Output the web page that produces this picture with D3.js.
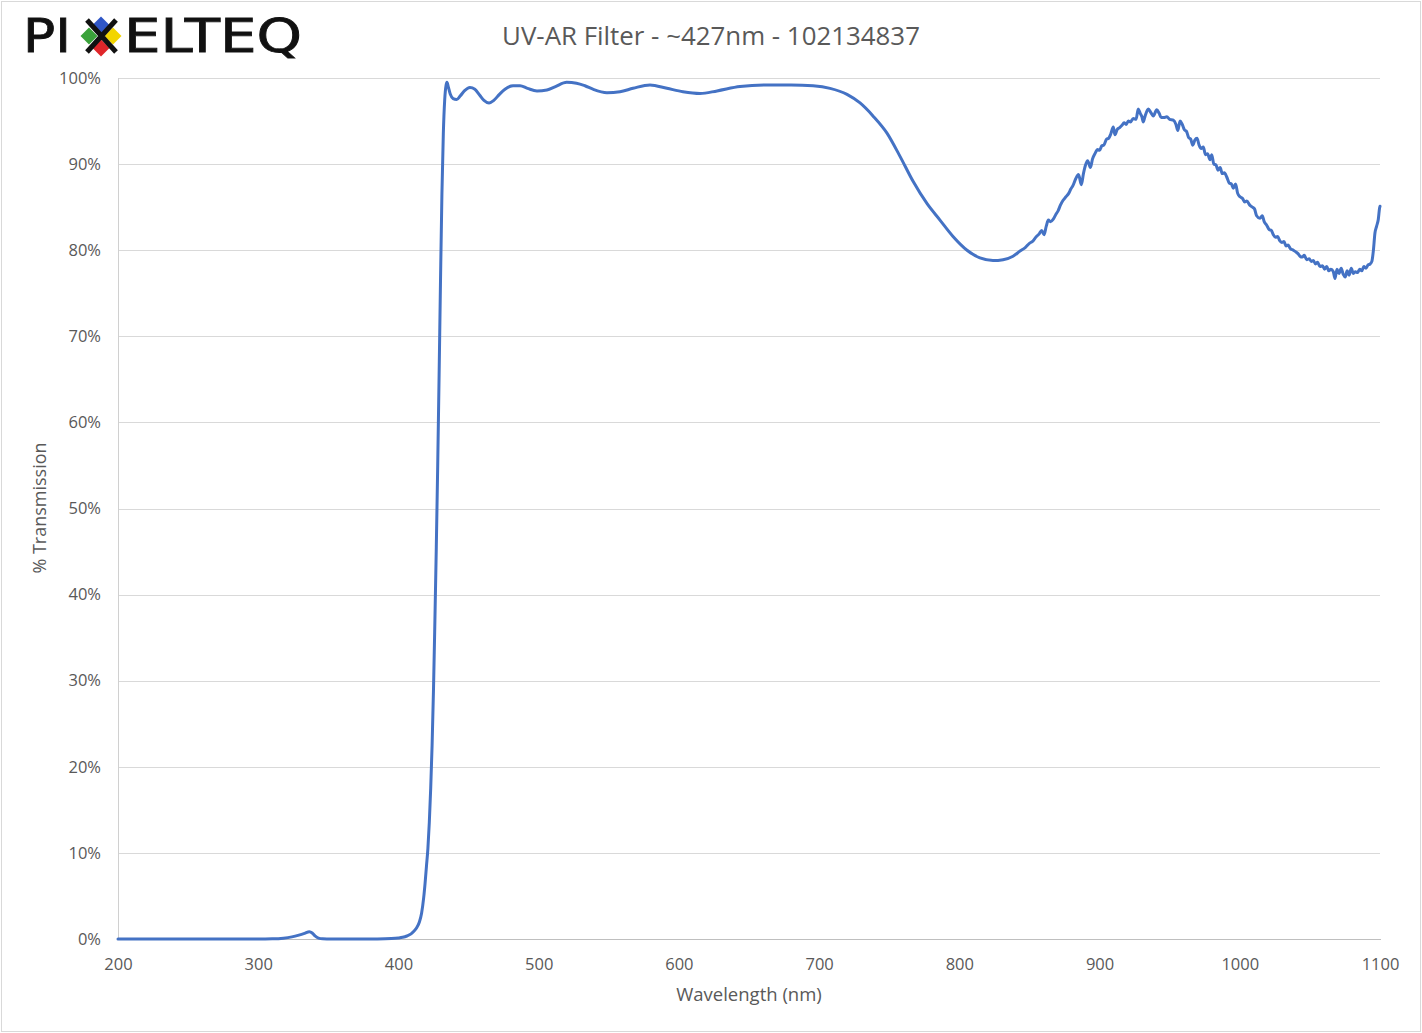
<!DOCTYPE html>
<html><head><meta charset="utf-8">
<script src="https://cdn.jsdelivr.net/npm/d3@7"></script>
<style>body{margin:0;background:#fff}svg{display:block}</style>
</head><body>
<script>
const title = "UV-AR Filter - ~427nm - 102134837";
const xLabel = "Wavelength (nm)";
const yLabel = "% Transmission";
const xTicks = [200,300,400,500,600,700,800,900,1000,1100];
const yTicks = [0,10,20,30,40,50,60,70,80,90,100];

const wavelength = [200,250,300,310,318,324,329,333,336.5,338.5,340.5,343,346,352,370,385,395,400,403,406,409,411,413,415,416.5,418,419,420,421,422,423,424,425,426,427,428,429,430,431,432,433,434,434.6,435.5,437,439,441.5,444,447,451,454.5,458,461,464.6,468,472,476,481.7,486.7,492,498.8,505.9,512,520,527,533,538.7,548.7,558,567.3,579.4,591.5,602.9,615.1,627.2,643.6,665,680,695.7,707.8,719.9,729.2,738.4,748.4,757.7,767,777,786.2,795.5,805.5,814.7,824,831.2,838.3,843.3,
847,850,852,855,857,858.7,860.4,862,863.5,865,867,869,870.5,872,874,876,878,879.5,881,883,885,887,888.5,890,891.5,893.5,895,897,898.5,900,901.5,903,905,906.5,908,909.8,911,912.5,914,916,917.5,919,920.5,922,924,926,927.6,929,930.2,931.2,932.5,934.8,936.5,938.3,940.8,942.5,944,946,948,950,952.6,954.5,955.8,957.4,959,960.5,962,963.5,965,966.5,968,969.5,971,972.5,974,975.5,977,978.8,980,981.5,983,984.5,986,987.5,989,990.7,992.5,994,995.4,997,998.5,1000.2,1002,1003.5,1005,1007.3,1009,1010.5,1012,1014.4,1016,1017.5,1019.2,1021,1022.5,1023.9,1025.5,1027,1028.5,1030,1031.5,1033,1034.5,1036,1038.2,1040,1041.5,1043,1044.5,1046,1047.7,1049.5,1051,1052.5,1054,1055.5,1057.2,1059,1060.5,1062,1063.5,1065,1066.7,1067.9,1069.3,1070.8,1072.3,1073.8,1075.2,1076.6,1078,1079.5,1081,1082.5,1084,1085.5,1087,1088.5,1090,1091.5,1093,1094.2,1095.3,1096.4,1097.6,1098.8,1099.7,1100];

const transmission = [0,0,0,0.02,0.1,0.25,0.45,0.65,0.85,0.7,0.35,0.1,0.02,0,0,0.01,0.05,0.12,0.2,0.35,0.6,0.9,1.3,2.0,3.0,4.8,6.5,8.5,10.5,13.5,17.5,22.5,29,37,45.5,55,65.5,76.5,86.5,93.5,97.5,99.2,99.5,99.0,98.1,97.6,97.5,97.9,98.5,98.9,98.7,98.0,97.4,97.1,97.4,98.1,98.7,99.1,99.1,98.8,98.5,98.6,99.0,99.5,99.4,99.1,98.7,98.3,98.4,98.8,99.2,98.8,98.4,98.2,98.5,99.0,99.2,99.2,99.1,98.8,98.1,97.1,95.6,93.6,90.9,88.0,85.4,83.5,81.6,80.0,79.1,78.8,78.9,79.3,79.9,
80.3,80.8,81.0,81.6,81.9,82.3,81.8,82.8,83.5,83.3,83.6,84.2,84.6,85.2,85.8,86.2,86.6,87.1,87.5,88.3,88.8,87.6,88.9,89.9,90.4,89.6,90.6,91.3,91.7,91.6,92.1,92.2,92.9,93.0,93.5,94.3,93.4,94.0,94.2,94.5,94.8,94.6,95.0,94.9,95.3,95.2,96.4,95.9,95.5,94.9,95.6,96.4,96.0,95.6,96.3,95.9,95.4,95.4,95.5,95.2,95.1,94.6,93.9,95.0,94.6,94.0,93.8,93.1,92.9,92.2,92.8,93.0,92.2,91.8,92.0,91.1,91.2,90.5,91.1,90.0,89.9,89.3,89.6,88.9,89.0,88.5,87.8,87.7,87.2,87.7,86.6,86.2,86.0,85.6,85.7,85.2,85.0,84.8,84.0,83.7,84.0,83.3,82.9,82.4,82.3,81.8,81.5,81.6,81.1,80.9,81.0,80.5,80.6,80.2,80.0,79.8,79.6,79.3,79.2,79.4,78.9,79.0,78.7,78.8,78.4,78.6,78.1,78.2,77.8,78.1,77.6,77.8,77.5,76.7,77.8,77.3,77.9,77.2,76.9,77.6,77.1,77.9,77.3,77.5,77.4,77.8,77.6,78.1,77.9,78.3,78.4,78.7,80.0,82.0,82.8,83.6,84.9,85.1];

const W = 1422, H = 1033;
const m = {left:118, right:1380, top:78, bottom:939};
const FONT = "'Open Sans', 'Liberation Sans', sans-serif";
const GREY = "#595959";

const svg = d3.select("body").append("svg").attr("width", W).attr("height", H);
svg.append("rect").attr("x",1.5).attr("y",1.5).attr("width",W-3).attr("height",H-3)
  .attr("fill","#fff").attr("stroke","#d9d9d9").attr("stroke-width",1);

const x = d3.scaleLinear().domain([200,1100]).range([m.left, m.right]);
const y = d3.scaleLinear().domain([0,100]).range([m.bottom, m.top]);

const yAxis = d3.axisLeft(y).tickValues(yTicks).tickSize(-(m.right-m.left)).tickFormat(d => d + "%").tickPadding(17);
const gy = svg.append("g").attr("transform", `translate(${m.left},0)`).call(yAxis);
gy.select(".domain").remove();
gy.selectAll(".tick line").attr("stroke","#d9d9d9").attr("stroke-width",1).attr("shape-rendering","crispEdges");
gy.selectAll(".tick text").attr("fill",GREY).style("font-family",FONT).style("font-size","16.5px");

svg.append("line").attr("x1",m.left+0.5).attr("x2",m.left+0.5).attr("y1",m.top).attr("y2",m.bottom)
  .attr("stroke","#d0d0d0").attr("stroke-width",1);

const xAxis = d3.axisBottom(x).tickValues(xTicks).tickSize(0).tickPadding(19).tickFormat(d3.format("d"));
const gx = svg.append("g").attr("transform", `translate(0,${m.bottom})`).call(xAxis);
gx.select(".domain").attr("stroke","#bfbfbf").attr("shape-rendering","crispEdges");
gx.selectAll(".tick text").attr("fill",GREY).style("font-family",FONT).style("font-size","16.5px");

const pts = wavelength.map((w,i) => [w, transmission[i]]);
const line = d3.line().x(d => x(d[0])).y(d => y(d[1])).curve(d3.curveMonotoneX);
svg.append("path").attr("d", line(pts)).attr("fill","none")
  .attr("stroke","#4472C4").attr("stroke-width",3).attr("stroke-linejoin","round").attr("stroke-linecap","round");

const t = svg.append("text").attr("x", 711).attr("y", 45).attr("text-anchor","middle")
  .attr("fill",GREY).style("font-family",FONT).style("font-size","22px").text(title);
const tw = t.node().getComputedTextLength();
t.style("font-size", (22*418/tw) + "px");

svg.append("text").attr("x", 749).attr("y", 1001).attr("text-anchor","middle")
  .attr("fill",GREY).style("font-family",FONT).style("font-size","18.5px").text(xLabel);
svg.append("text").attr("transform","translate(46,508) rotate(-90)").attr("text-anchor","middle")
  .attr("fill",GREY).style("font-family",FONT).style("font-size","18px").text(yLabel);

// logo
const logo = svg.append("g");
const LF = "'DejaVu Sans', sans-serif";
logo.append("text").attr("x",23).attr("y",52).attr("textLength",48).attr("lengthAdjust","spacingAndGlyphs")
  .style("font-family",LF).style("font-size","47px").attr("fill","#111").attr("stroke","#111").attr("stroke-width",0.8).text("PI");
const diamonds = [["#2f56c6",101,25],["#3aa23a",89,36],["#f2d500",113,36],["#e0262a",101,48]];
logo.selectAll("path.dia").data(diamonds).enter().append("path")
  .attr("d", d => `M${d[1]},${d[2]-8.5}L${d[1]+8.5},${d[2]}L${d[1]},${d[2]+8.5}L${d[1]-8.5},${d[2]}Z`).attr("fill", d => d[0]);
logo.append("path").attr("d","M87,20L116,52M116,20L87,52").attr("stroke","#111").attr("stroke-width",5).attr("fill","none");
logo.append("text").attr("x",124).attr("y",52).attr("textLength",178).attr("lengthAdjust","spacingAndGlyphs")
  .style("font-family",LF).style("font-size","47px").attr("fill","#111").attr("stroke","#111").attr("stroke-width",0.8).text("ELTEQ");
</script>
</body></html>
